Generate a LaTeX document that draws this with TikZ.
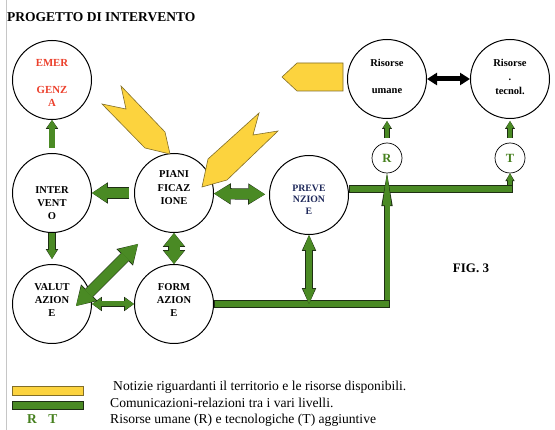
\documentclass[tikz,border=0pt]{standalone}
\usepackage{fontspec}
\setmainfont{Liberation Serif}
\usetikzlibrary{arrows.meta,calc,positioning}
\definecolor{gfill}{RGB}{74,138,36}
\definecolor{gedge}{RGB}{30,46,20}
\definecolor{yfill}{RGB}{252,211,62}
\definecolor{yedge}{RGB}{130,110,40}
\definecolor{ered}{RGB}{236,64,44}
\definecolor{pnavy}{RGB}{30,40,90}
\definecolor{rtgreen}{RGB}{70,128,30}
\begin{document}
\begin{tikzpicture}[x=1pt,y=-1pt,line join=miter,
	ring/.style={circle,draw,line width=1pt,minimum size=79pt,inner sep=0pt},
	dot/.style={circle,draw,line width=0.7pt,minimum size=30pt,inner sep=0pt,text=rtgreen,font=\fontsize{12.5}{14}\selectfont\bfseries},
	ctext/.style={align=center,inner sep=0pt,font=\fontsize{10.5}{#1}\selectfont\bfseries},
	ctext/.default=13,
	gbar/.style={draw=gedge,line width=#1+1.2pt,postaction={draw=gfill,line width=#1,shorten <=0.6pt,shorten >=0.6pt}},
	gone/.style n args={3}{draw=gedge,line width=#1+1.2pt,-{Triangle[length=#3+0.8pt,width=#2+2.4pt,line width=0pt]},
		postaction={draw=gfill,line width=#1,-{Triangle[length=#3,width=#2,line width=0pt]}}},
	gtwo/.style n args={3}{draw=gedge,line width=#1+1.2pt,{Triangle[length=#3+0.8pt,width=#2+2.4pt,line width=0pt]}-{Triangle[length=#3+0.8pt,width=#2+2.4pt,line width=0pt]},
		postaction={draw=gfill,line width=#1,{Triangle[length=#3,width=#2,line width=0pt]}-{Triangle[length=#3,width=#2,line width=0pt]}}},
	bkarrow/.style={draw=black,line width=5pt,{Triangle[length=10pt,width=12pt]}-{Triangle[length=10pt,width=12pt]}},
	ypoly/.style={fill=yfill,draw=yedge,line width=0.6pt},
	legend/.style={anchor=base west,inner sep=0pt,font=\fontsize{13.6}{16}\selectfont}]
	\fill[white] (0,0) rectangle (555,430);
	\useasboundingbox (0,0) rectangle (555,430);
	\draw[gray!45,line width=0.8pt] (6,0) -- (6,430);
	\node[anchor=base west,inner sep=0pt,font=\fontsize{13.5}{16}\selectfont\bfseries] (title) at (7,21.5) {PROGETTO DI INTERVENTO};
	%%% circles
	\foreach \nm/\x/\y in {emer/52/80,inter/52/193,valut/52/304,pian/174/193,form/174/304,prev/309/195,umane/387/79,tecnol/510/79}
		\node[ring] (\nm) at (\x,\y) {};
	\node[dot] (R) at (387,158) {R};
	\node[dot] (T) at (510,158) {T};
	\node[ctext,text=ered,font=\fontsize{10.8}{13.3}\selectfont\bfseries] (emer-t) at ($(emer)+(0,3)$) {EMER\\[13.3pt]GENZ\\A};
	\node[ctext] (inter-t) at ($(inter)+(0,10)$) {INTER\\VENT\\O};
	\node[ctext=13.5] (pian-t) at ($(pian)+(0,-5)$) {PIANI\\FICAZ\\IONE};
	\node[ctext] (valut-t) at ($(valut)+(0,-4)$) {VALUT\\AZION\\E};
	\node[ctext] (form-t) at ($(form)+(0,-4)$) {FORM\\AZION\\E};
	\node[ctext,text=pnavy,font=\fontsize{9.8}{11.5}\selectfont\bfseries] (prev-t) at ($(prev)+(0,4.5)$) {PREVE\\NZION\\E};
	\node[ctext=13.5] (umane-t) at ($(umane)+(0,-2.5)$) {Risorse\\[13.5pt]umane};
	\node[ctext=14] (tecnol-t) at ($(tecnol)+(0,-2)$) {Risorse\\.\\tecnol.};
	%%% yellow inputs
	\draw[ypoly] (121,86) -- (126,109) -- (102,104) -- (145,148) -- (170,154) -- (165,132) -- cycle;
	\draw[ypoly] (259,113) -- (253,135) -- (278,131) -- (227,180) -- (202,187) -- (208,159) -- cycle;
	\draw[ypoly] (282,77) -- (297,63) -- (343,63) -- (343,91) -- (297,91) -- cycle;
	%%% green links
	\draw[gone={5.5pt}{10pt}{8pt},shorten <=5pt] (inter) -- (emer);
	\draw[gone={6pt}{10pt}{9pt},shorten >=5pt] (inter) -- (valut);
	\draw[gone={10pt}{19pt}{15pt},shorten <=5pt] (pian) -- (inter);
	\draw[gtwo={10pt}{19pt}{16pt},shorten >=4pt] (pian) -- (prev);
	\draw[gtwo={11pt}{20pt}{13pt}] (pian) -- (form);
	\draw[gtwo={5pt}{12pt}{9pt}] (valut) -- (form);
	\coordinate (vd) at ($(valut)+(24,2)$);
	\coordinate (pd) at (138,244);
	\draw[gtwo={10pt}{21pt}{18pt}] (vd) -- (pd);
	\coordinate (pb) at (prev |- form.east);
	%%% lines to R and T
	\coordinate (pe) at ([yshift=6pt]prev.east);
	\coordinate (tc) at (pe -| T);
	\draw[gone={4pt}{7pt}{7pt}] ([yshift=3pt]tc) -- (T);
	\draw[gbar=6.5pt] (pe) -- ([xshift=3pt]tc);
	\coordinate (bc) at (form.east -| R);
	\draw[gone={5pt}{9pt}{32pt}] ([yshift=-3pt]bc) -- (R);
	\draw[gbar=6.5pt] (form.east) -- ([xshift=3pt]bc);
	\draw[gtwo={6.5pt}{12pt}{15pt}] (prev) -- (pb);
	\draw[gone={4.3pt}{7.5pt}{7pt},shorten <=5pt,shorten >=2pt] (R) -- (umane);
	\draw[gone={4.3pt}{7.5pt}{7pt},shorten <=5pt,shorten >=2pt] (T) -- (tecnol);
	\draw[bkarrow] (umane) -- (tecnol);
	%%% legend
	\node[anchor=base,inner sep=0pt,font=\fontsize{13}{15}\selectfont\bfseries] (fig) at (471,273) {FIG. 3};
	\draw[fill=yfill,draw=yedge,line width=0.8pt] (12,386) rectangle (83,395);
	\draw[fill=gfill,draw=gedge,line width=0.8pt] (12,401) rectangle (83,409);
	\node[anchor=base,inner sep=0pt,text=rtgreen,font=\fontsize{13.5}{15}\selectfont\bfseries] (leg-R) at (32,424) {R};
	\node[anchor=base,inner sep=0pt,text=rtgreen,font=\fontsize{13.5}{15}\selectfont\bfseries] (leg-T) at (53,424) {T};
	\node[legend] (leg-1) at (113,391) {Notizie riguardanti il territorio e le risorse disponibili.};
	\node[legend] (leg-2) at (110,407.5) {Comunicazioni-relazioni tra i vari livelli.};
	\node[legend] (leg-3) at (110,424) {Risorse umane (R) e tecnologiche (T) aggiuntive};
\end{tikzpicture}
\end{document}
